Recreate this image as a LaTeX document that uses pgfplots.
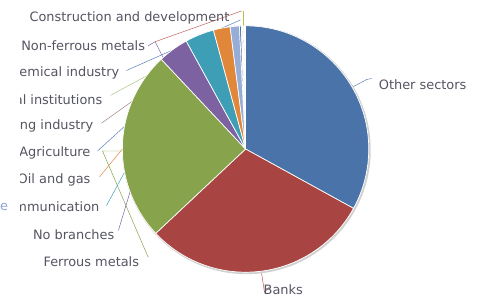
\documentclass[border=0pt]{standalone}
\usepackage{pgfplots}
\pgfplotsset{compat=1.18}
\usepackage{pgfplotstable}
\usepackage{fontspec}
\setmainfont{DejaVu Sans}
\definecolor{c0}{HTML}{4A74A9}
\definecolor{c1}{HTML}{A84441}
\definecolor{c2}{HTML}{87A34C}
\definecolor{c3}{HTML}{7C62A0}
\definecolor{c4}{HTML}{3E9EB6}
\definecolor{c5}{HTML}{E0873A}
\definecolor{c6}{HTML}{95ADD7}
\definecolor{c7}{HTML}{4A74A9}
\definecolor{c8}{HTML}{C9D99F}
\definecolor{c9}{HTML}{B3A2C7}
\definecolor{c10}{HTML}{92CDDC}
\definecolor{c11}{HTML}{FAC090}
\definecolor{txt}{RGB}{85,85,98}
\definecolor{lmauve}{HTML}{A07F8C}
\definecolor{lgreen}{HTML}{A9C47F}
\definecolor{lblue}{HTML}{5B7FBF}
\definecolor{lred}{HTML}{C0605D}
\definecolor{lyel}{HTML}{B5C24A}
\tikzset{lab/.style={font=\fontsize{13}{15}\selectfont,text=txt,inner sep=0pt}}

% share of each sector (percent), clockwise from 12 o'clock
\pgfplotstableread[col sep=comma]{
label,value
Other sectors,33.0
Banks,30.0
Ferrous metals,25.0
No branches,4.0
Telecommunication,3.8
Oil and gas,2.2
Agriculture,1.2
Engineering industry,0.25
Financial institutions,0.15
Chemical industry,0.15
Non-ferrous metals,0.1
Construction and development,0.15
}\data

\begin{document}
\begin{tikzpicture}
\begin{axis}[x=1pt,y=1pt,xmin=0,xmax=481,ymin=0,ymax=300,y dir=reverse,
  hide axis,clip=false]
\path (axis cs:0,0) rectangle (axis cs:481,300);
% leader lines (behind the pie)
\draw[c0!90,line width=0.5pt] (axis cs:351,88) -- (axis cs:366,80) -- (axis cs:371,79);
\draw[c1!90,line width=0.5pt] (axis cs:260,274) -- (axis cs:263,294) -- (axis cs:268,289);
\draw[c2,line width=0.5pt] (axis cs:146,259) -- (axis cs:100,152) -- (axis cs:122,152);
\draw[c3,line width=0.5pt] (axis cs:116,232) -- (axis cs:171,50);
\draw[c4,line width=0.5pt] (axis cs:104,207) -- (axis cs:197,35);
\draw[c5,line width=0.5pt] (axis cs:97,178) -- (axis cs:220,28);
\draw[lblue,line width=0.5pt] (axis cs:95,152) -- (axis cs:233,26);
\draw[lmauve,line width=0.5pt] (axis cs:99,124) -- (axis cs:236,26);
\draw[lgreen,line width=0.5pt] (axis cs:108,96) -- (axis cs:238,26);
\draw[lblue,line width=0.5pt] (axis cs:124,71) -- (axis cs:239,20);
\draw[c3,line width=0.5pt] (axis cs:146,46) -- (axis cs:153,42) -- (axis cs:163,62);
\draw[lred,line width=0.5pt] (axis cs:153,42) -- (axis cs:240,11);
\draw[lyel,line width=0.6pt] (axis cs:242,11) -- (axis cs:242,28);
% shadow
\draw[black!18,line width=2pt] (axis cs:245,151) circle[radius=124pt];
% pie slices
\def\astart{90}
\pgfplotsforeachungrouped \i in {0,...,11}{%
  \pgfplotstablegetelem{\i}{value}\of\data
  \let\v\pgfplotsretval
  \pgfmathsetmacro\aend{\astart-\v*3.6}%
  \edef\cmd{\noexpand\fill[fill=c\i,draw=white,line width=0.7pt,line join=round]
    (axis cs:244,150) -- ++(\astart:124pt) arc[start angle=\astart,end angle=\aend,radius=124pt] -- cycle;}%
  \cmd
  \global\let\astart\aend
}
% labels
\begin{scope}
\clip (axis cs:17,0) rectangle (axis cs:481,300);
\node[lab,anchor=east] at (axis cs:228,18) {Construction and development};
\node[lab,anchor=east] at (axis cs:143,46) {Non-ferrous metals};
\node[lab,anchor=east] at (axis cs:117,73) {Chemical industry};
\node[lab,anchor=east] at (axis cs:100,100) {Financial institutions};
\node[lab,anchor=east] at (axis cs:91,127) {Engineering industry};
\node[lab,anchor=east] at (axis cs:88,154) {Agriculture};
\node[lab,anchor=east] at (axis cs:88,181) {Oil and gas};
\node[lab,anchor=east] at (axis cs:97,208) {Telecommunication};
\node[lab,anchor=east] at (axis cs:112,236) {No branches};
\node[lab,anchor=east] at (axis cs:137,263) {Ferrous metals};
\node[lab,anchor=west] at (axis cs:378,85) {Other sectors};
\node[lab,anchor=west] at (axis cs:262,292) {Banks};
\end{scope}
\node[lab,text=lblue!70,anchor=east] at (axis cs:5,208) {e};
\end{axis}
\end{tikzpicture}
\end{document}
